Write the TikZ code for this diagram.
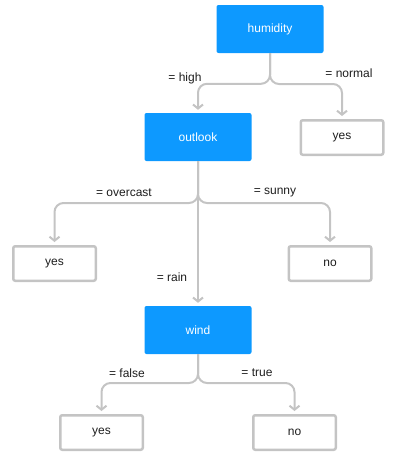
\documentclass[tikz,border=0pt]{standalone}
\usepackage{fontspec}
\setmainfont{Liberation Sans}
\usetikzlibrary{arrows.meta}

\definecolor{nodeblue}{HTML}{0D99FF}
\definecolor{edgegray}{HTML}{C4C4C4}
\definecolor{labelblack}{HTML}{1E1E1E}

\begin{document}
\begin{tikzpicture}[x=1pt, y=-1pt,
  attr/.style={fill=nodeblue, text=white, rounded corners=2pt, minimum width=107pt, minimum height=48pt, inner sep=0pt, font=\fontsize{12}{14}\selectfont},
  leaf/.style={draw=edgegray, line width=2.5pt, fill=white, rounded corners=2pt, minimum width=82.5pt, minimum height=34.5pt, inner sep=0pt, text=labelblack, font=\fontsize{12}{14}\selectfont},
  lbl/.style={text=labelblack, inner sep=0pt, font=\fontsize{12}{14}\selectfont},
  edge/.style={draw=edgegray, line width=2pt, rounded corners=9pt, -{Straight Barb[length=4pt,width=10pt]}, shorten >=3pt}
]

\useasboundingbox (0,0) rectangle (400,463);

% decision nodes
\node [attr] (humidity) at (270,29) {humidity};
\node [attr] (outlook) at (198,137) {outlook};
\node [attr] (wind) at (198,330) {wind};

% leaves
\node [leaf] (yes1) at (342,137.5) {yes};
\node [leaf] (yes2) at (54.5,263.5) {yes};
\node [leaf] (no1) at (330,263.5) {no};
\node [leaf] (yes3) at (101.5,432.5) {yes};
\node [leaf] (no2) at (294.5,432.5) {no};

% branch labels
\node [lbl] (high) at (185,78) {= high};
\node [lbl] (normal) at (349,73) {= normal};
\node [lbl] (overcast) at (124,193) {= overcast};
\node [lbl] (sunny) at (275,193) {= sunny};
\node [lbl] (rain) at (172,277) {= rain};
\node [lbl] (false) at (127,373) {= false};
\node [lbl] (true) at (257,373) {= true};

% edges
\draw [edge] (humidity.south) |- ([yshift=29pt]outlook.north) -- (outlook.north);
\draw [edge] (humidity.south) |- ([yshift=35pt]yes1.north) -- (yes1.north);
\draw [edge] (outlook.south) |- ([yshift=42pt]yes2.north) -- (yes2.north);
\draw [edge] (outlook.south) |- ([yshift=42pt]no1.north) -- (no1.north);
\draw [edge] (outlook.south) -- (wind.north);
\draw [edge] (wind.south) |- ([yshift=31pt]yes3.north) -- (yes3.north);
\draw [edge] (wind.south) |- ([yshift=31pt]no2.north) -- (no2.north);

\end{tikzpicture}
\end{document}
